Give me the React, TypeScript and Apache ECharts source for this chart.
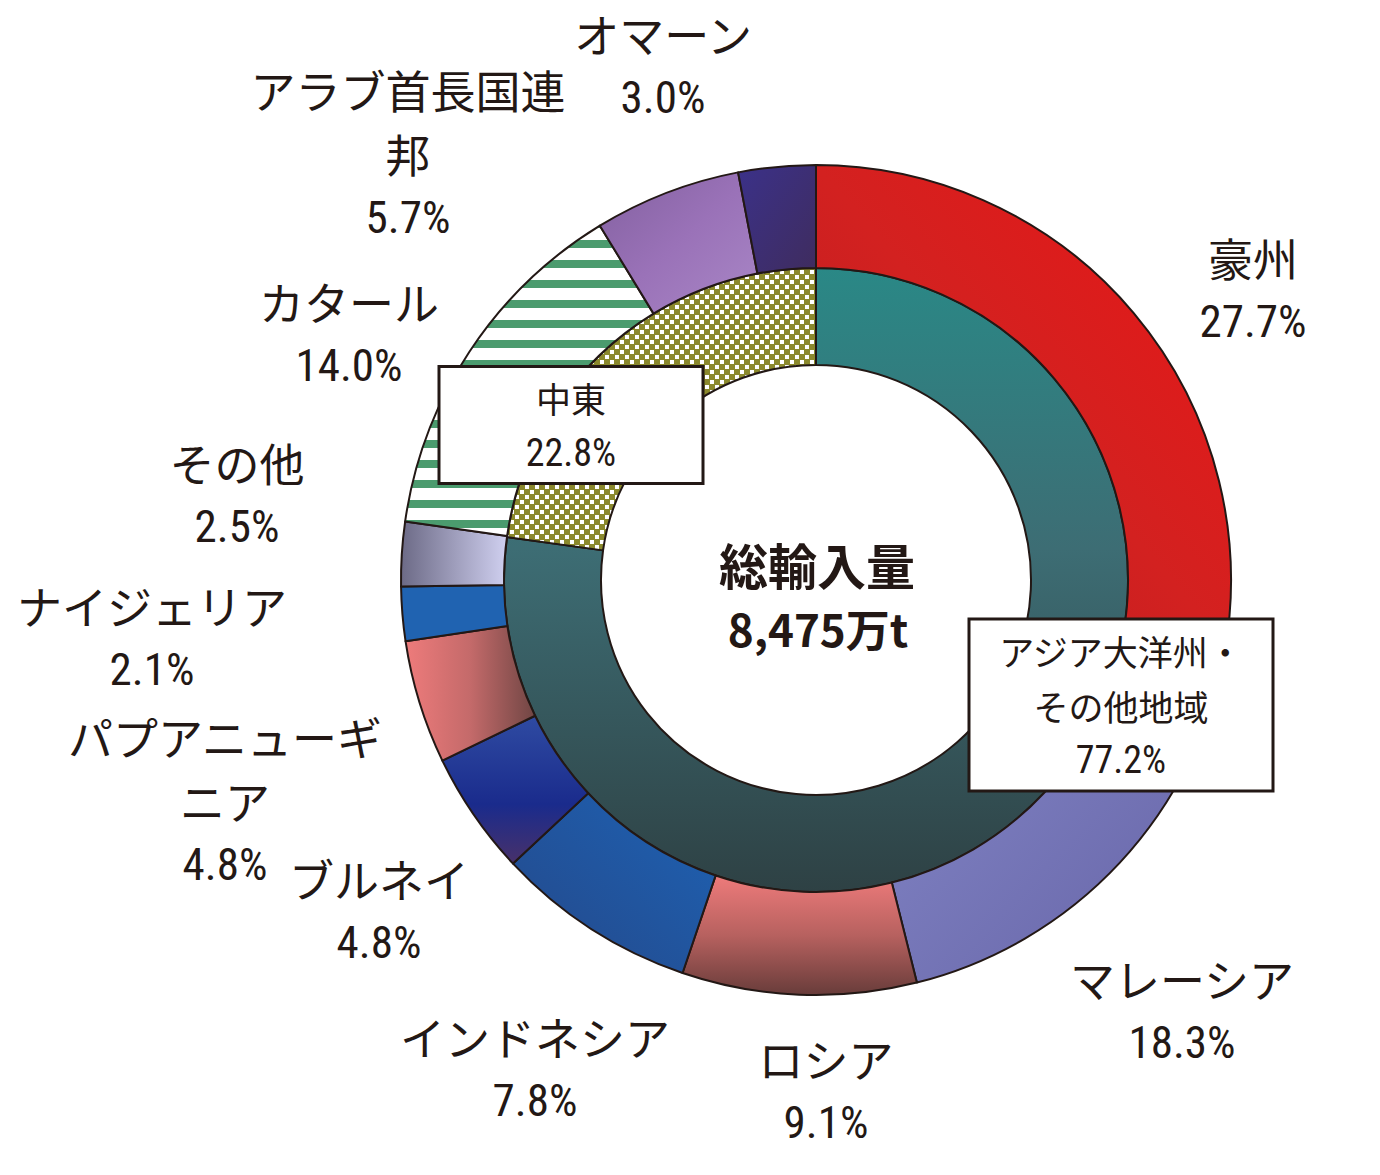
import React, { useEffect, useRef } from "react";
import * as echarts from "echarts";

// ---- data ----
const outerNames = [
  "豪州",
  "マレーシア",
  "ロシア",
  "インドネシア",
  "ブルネイ",
  "パプアニューギニア",
  "ナイジェリア",
  "その他",
  "カタール",
  "アラブ首長国連邦",
  "オマーン",
];
const outerValues = [27.7, 18.3, 9.1, 7.8, 4.8, 4.8, 2.1, 2.5, 14.0, 5.7, 3.0];
const outerLabelNames = [
  "豪州",
  "マレーシア",
  "ロシア",
  "インドネシア",
  "ブルネイ",
  "パプアニューギ\nニア",
  "ナイジェリア",
  "その他",
  "カタール",
  "アラブ首長国連\n邦",
  "オマーン",
];
const innerNames = ["アジア大洋州・その他地域", "中東"];
const innerValues = [77.2, 22.8];
const innerLabelNames = ["アジア大洋州・\nその他地域", "中東"];
const centerLines = ["総輸入量", "8,475万t"];

// ---- layout (label anchors) ----
const outerLabelPos = [
  [1253, 289],
  [1182, 1010],
  [826, 1090],
  [535, 1068],
  [379, 910],
  [225, 800],
  [152, 637],
  [237, 494],
  [349, 333],
  [408, 153],
  [663, 65],
];
const innerLabelPos = [
  [1121, 705],
  [571, 425],
];

const INK = "#231815";
const JP = "'Noto Sans CJK JP', sans-serif";
const NUM =
  "'Noto Sans Condensed', 'Roboto Condensed', 'DejaVu Sans Condensed', 'Liberation Sans Narrow', 'Noto Sans CJK JP', sans-serif";

function lg(x: number, y: number, x2: number, y2: number, stops: [number, string][]) {
  return new echarts.graphic.LinearGradient(
    x,
    y,
    x2,
    y2,
    stops.map(([offset, color]) => ({ offset, color }))
  );
}

function stripePattern() {
  const c = document.createElement("canvas");
  c.width = 4;
  c.height = 20;
  const ctx = c.getContext("2d")!;
  ctx.fillStyle = "#ffffff";
  ctx.fillRect(0, 0, 4, 20);
  ctx.fillStyle = "#4b9b6e";
  ctx.fillRect(0, 0, 4, 8);
  return { image: c, repeat: "repeat", imageWidth: 4, imageHeight: 20 };
}

function checkerPattern() {
  const c = document.createElement("canvas");
  c.width = 10;
  c.height = 10;
  const ctx = c.getContext("2d")!;
  ctx.fillStyle = "#8b892d";
  ctx.fillRect(0, 0, 10, 10);
  ctx.fillStyle = "#ffffff";
  ctx.fillRect(0, 0, 4, 4);
  ctx.fillRect(5, 5, 4, 4);
  return { image: c, repeat: "repeat", imageWidth: 10, imageHeight: 10 };
}

export default function App() {
  const ref = useRef<HTMLDivElement>(null);

  useEffect(() => {
    if (!ref.current) return;
    const chart = echarts.init(ref.current, null, { renderer: "svg" });

    const outerColors: any[] = [
      lg(0, 1, 1, 0, [
        [0, "#b51d22"],
        [0.5, "#d32120"],
        [1, "#e81616"],
      ]),
      lg(0, 0, 1, 1, [
        [0, "#8488c8"],
        [1, "#6663a6"],
      ]),
      lg(0, 0, 0, 1, [
        [0, "#ee7b7b"],
        [0.5, "#b7615f"],
        [1, "#683c3a"],
      ]),
      lg(1, 0, 0, 1, [
        [0, "#1e62b4"],
        [1, "#244889"],
      ]),
      lg(0, 0, 0, 1, [
        [0, "#2f4ba2"],
        [0.6, "#1a2b8c"],
        [1, "#48316a"],
      ]),
      lg(0, 0, 1, 0, [
        [0, "#ee7b7b"],
        [0.5, "#c46a6a"],
        [1, "#704644"],
      ]),
      "#2063b1",
      lg(0, 0, 1, 0, [
        [0, "#6c6a86"],
        [1, "#d0d0f0"],
      ]),
      stripePattern(),
      lg(0, 0, 1, 1, [
        [0, "#82609f"],
        [0.5, "#9a72b8"],
        [1, "#a987c6"],
      ]),
      lg(0, 0, 1, 1, [
        [0, "#3b3189"],
        [1, "#3f2c5e"],
      ]),
    ];
    const innerColors: any[] = [
      lg(0, 0, 0, 1, [
        [0, "#2a8886"],
        [0.45, "#3d6d74"],
        [1, "#2e4144"],
      ]),
      checkerPattern(),
    ];

    chart.setOption({
      animation: false,
      backgroundColor: "#ffffff",
      graphic: [
        {
          type: "text",
          x: 817,
          y: 563,
          style: {
            text: centerLines[0],
            fontSize: 49,
            fontWeight: "bold",
            fontFamily: JP,
            fill: INK,
            align: "center",
            verticalAlign: "middle",
            textAlign: "center",
            textVerticalAlign: "middle",
          },
        },
        {
          type: "text",
          x: 818,
          y: 628,
          style: {
            text: centerLines[1],
            fontSize: 44,
            fontWeight: "bold",
            fontFamily: JP,
            fill: INK,
            align: "center",
            verticalAlign: "middle",
            textAlign: "center",
            textVerticalAlign: "middle",
          },
        },
      ],
      series: [
        {
          type: "pie",
          name: "inner",
          center: [816, 580],
          radius: [215, 312],
          startAngle: 90,
          clockwise: true,
          avoidLabelOverlap: false,
          silent: true,
          emphasis: { disabled: true },
          itemStyle: { borderColor: INK, borderWidth: 2 },
          labelLine: { show: false },
          label: {
            show: true,
            position: "outside",
            formatter: (p: any) =>
              `{n|${innerLabelNames[p.dataIndex]}}\n{v|${p.value.toFixed(1)}%}`,
            color: INK,
            backgroundColor: "#ffffff",
            borderColor: INK,
            borderWidth: 3,
            borderRadius: 0,
            padding: [2, 0],
            rich: {
              n: { fontFamily: JP, fontSize: 35, lineHeight: 55, color: INK },
              v: { fontFamily: NUM, fontSize: 38, lineHeight: 55, color: INK },
            },
          },
          labelLayout: (p: any) => ({
            x: innerLabelPos[p.dataIndex][0],
            y: innerLabelPos[p.dataIndex][1],
            align: "center",
            verticalAlign: "middle",
            width: p.dataIndex === 0 ? 301 : 261,
          }),
          data: innerNames.map((n, i) => ({
            name: n,
            value: innerValues[i],
            itemStyle: { color: innerColors[i] },
          })),
        },
        {
          type: "pie",
          name: "outer",
          center: [816, 580],
          radius: [312, 415],
          startAngle: 90,
          clockwise: true,
          avoidLabelOverlap: false,
          silent: true,
          emphasis: { disabled: true },
          itemStyle: { borderColor: INK, borderWidth: 2 },
          labelLine: { show: false },
          label: {
            show: true,
            position: "outside",
            formatter: (p: any) =>
              `{n|${outerLabelNames[p.dataIndex]}}\n{v|${p.value.toFixed(1)}%}`,
            color: INK,
            align: "center",
            rich: {
              n: { fontFamily: JP, fontSize: 45, lineHeight: 64, color: INK, align: "center" },
              v: { fontFamily: NUM, fontSize: 45, lineHeight: 64, color: INK, align: "center" },
            },
          },
          labelLayout: (p: any) => ({
            x: outerLabelPos[p.dataIndex][0],
            y: outerLabelPos[p.dataIndex][1],
            align: "center",
            verticalAlign: "middle",
          }),
          data: outerNames.map((n, i) => ({
            name: n,
            value: outerValues[i],
            itemStyle: { color: outerColors[i] },
          })),
        },
      ],
    });

    return () => {
      chart.dispose();
    };
  }, []);

  return (
    <div
      ref={ref}
      style={{ position: "absolute", left: 0, top: 0, width: 1380, height: 1175 }}
    />
  );
}
